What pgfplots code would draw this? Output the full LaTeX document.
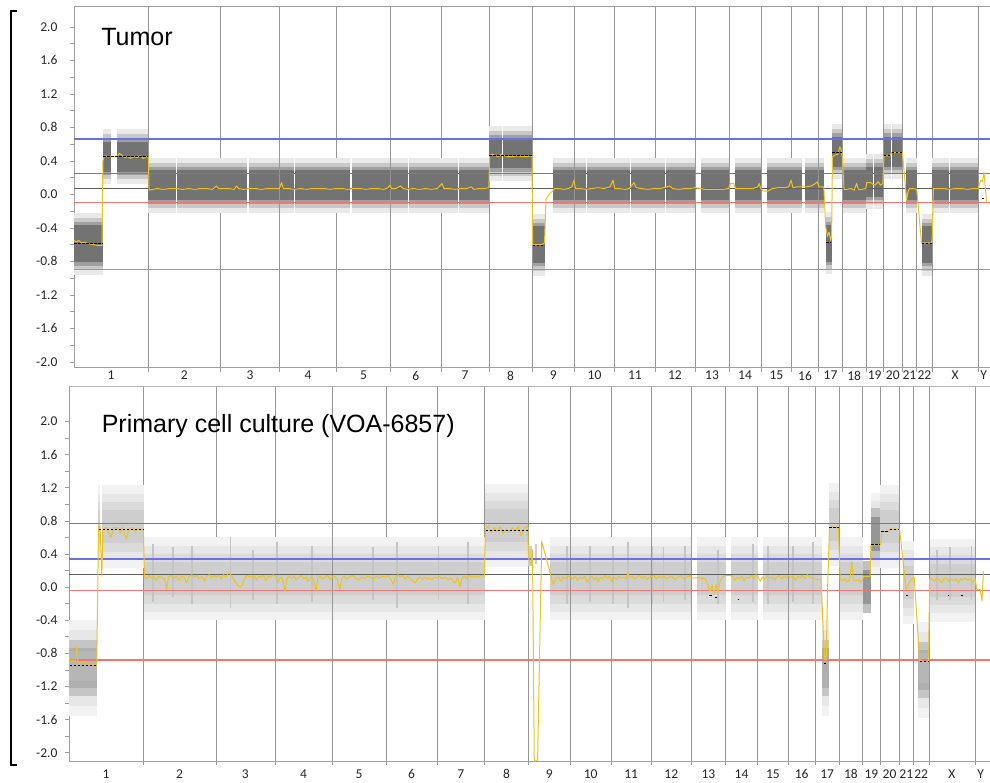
\documentclass[border=0pt]{standalone}
\usepackage{pgfplots}
\pgfplotsset{compat=1.18}
\usepackage{fontspec}
\setmainfont{Carlito}
\newfontfamily\arialfont{Liberation Sans}
\definecolor{ylw}{RGB}{236,196,28}
\definecolor{refblue}{RGB}{110,110,232}
\definecolor{refred}{RGB}{238,118,118}
\definecolor{refblack}{RGB}{95,95,95}
\definecolor{vgrid}{RGB}{150,150,150}
\definecolor{t1}{RGB}{115,115,115}
\definecolor{t2}{RGB}{160,160,160}
\definecolor{t3}{RGB}{200,200,200}
\definecolor{t4}{RGB}{233,233,233}
\definecolor{b1}{RGB}{206,206,206}
\definecolor{b2}{RGB}{219,219,219}
\definecolor{b3}{RGB}{231,231,231}
\definecolor{b4}{RGB}{242,242,242}
\definecolor{bdense}{RGB}{150,150,150}
\definecolor{streak}{RGB}{196,196,196}
\pgfplotsset{
 cnv/.style={
  scale only axis,
  xmin=0,
  axis x line*=bottom, axis y line*=left,
  axis line style={draw=gray!75, line width=0.6pt},
  xtick={124.5,370.5,591,786,972,1147.5,1313,1466,1609.5,1748,1883.5,2018,2142.5,2253.5,2358.5,2455,2540.5,2620,2688.5,2749.5,2805.5,2855.5,2958.5,3055},
  xticklabels={1,2,3,4,5,6,7,8,9,10,11,12,13,14,15,16,17,18,19,20,21,22,X,Y},
  major x tick style={draw=none},
  minor xtick={249,492,690,882,1062,1233,1393,1539,1680,1816,1951,2085,2200,2307,2410,2500,2581,2659,2718,2781,2830,2881,3036},
  xminorgrids=true,
  minor grid style={draw=vgrid, line width=0.6pt},
  tick align=outside,
  major tick length=4pt, minor tick length=4pt,
  every tick/.style={draw=gray!75, line width=0.6pt},
  ytick={-2,-1.6,-1.2,-0.8,-0.4,0,0.4,0.8,1.2,1.6,2},
  minor y tick num=1,
  yticklabel={\pgfmathprintnumber[fixed,fixed zerofill,precision=1,assume math mode=true]{\tick}},
  ticklabel style={font=\fontsize{13.5}{16}\selectfont, text=black!85},
  unbounded coords=jump,
 },
 band/.style={forget plot, line cap=butt, unbounded coords=jump},
 refl/.style={forget plot, line width=1.25pt},
}
\begin{document}
\begin{tikzpicture}[x=1pt,y=1pt]
\useasboundingbox (0,0) rectangle (990,783);
\draw[line width=1.6pt] (17,772) -- (11,772) -- (11,18) -- (17,18);

% ================= TOP PANEL: Tumor =================
\begin{axis}[cnv,
  at={(74pt,415.3pt)}, anchor=south west,
  width=916pt, height=361.7pt,
  xmax=3076, ymin=-2.07, ymax=2.25,
  yticklabel style={xshift=-9pt},
  xticklabel style={yshift=4pt},
]
\def\segA{(250,0.11) (342,0.11) (342,nan) (346,0.11) (492,0.11) (492,nan)
(493,0.11) (582,0.11) (582,nan) (586,0.11) (690,0.11) (690,nan)
(691,0.11) (738,0.11) (738,nan) (742,0.11) (882,0.11) (882,nan)
(883,0.11) (928,0.11) (928,nan) (932,0.11) (1062,0.11) (1062,nan)
(1063,0.11) (1120,0.11) (1120,nan) (1124,0.11) (1233,0.11) (1233,nan)
(1234,0.11) (1290,0.11) (1290,nan) (1294,0.11) (1393,0.11) (1393,nan)
(1394,0.49) (1437,0.49) (1437,nan) (1441,0.49) (1539,0.49) (1539,nan)
(96,0.45) (124,0.45) (124,nan) (145,0.45) (249,0.45) (249,nan)
(1607,0.11) (1680,0.11) (1680,nan) (1681,0.11) (1718,0.11) (1718,nan)
(1722,0.11) (1816,0.11) (1816,nan) (1817,0.11) (1867,0.11) (1867,nan)
(1871,0.11) (1951,0.11) (1951,nan) (1952,0.11) (1984,0.11) (1984,nan)
(1988,0.11) (2085,0.11) (2085,nan) (2104,0.11) (2200,0.11) (2200,nan)
(2219,0.11) (2307,0.11) (2307,nan) (2327,0.11) (2410,0.11) (2410,nan)
(2411,0.11) (2445,0.11) (2445,nan) (2455,0.11) (2500,0.11) (2500,nan)
(2501,0.11) (2518,0.11) (2518,nan) (2544,0.51) (2580,0.51) (2580,nan)
(2583,0.11) (2659,0.11) (2659,nan) (2660,0.15) (2684,0.15) (2684,nan)
(2688,0.15) (2718,0.15) (2718,nan) (2719,0.51) (2743,0.51) (2743,nan)
(2747,0.51) (2781,0.51) (2781,nan) (2795,0.11) (2830,0.11) (2830,nan)
(2882,0.11) (2939,0.11) (2939,nan) (2943,0.11) (3036,0.11) (3036,nan)}
\def\segB{(0,-0.59) (96,-0.59) (96,nan) (1540,-0.60) (1580,-0.60) (1580,nan)
(2524,-0.585) (2544,-0.585) (2544,nan) (2846,-0.60) (2881,-0.60) (2881,nan)}
\addplot[band, t4, line width=55pt] coordinates {\segA};
\addplot[band, t4, line width=62pt] coordinates {\segB};
\addplot[band, t3, line width=45pt] coordinates {\segA};
\addplot[band, t3, line width=52pt] coordinates {\segB};
\addplot[band, t2, line width=37pt] coordinates {\segA};
\addplot[band, t2, line width=43.5pt] coordinates {\segB};
\addplot[band, t1, line width=30pt] coordinates {\segA};
\addplot[band, t1, line width=37pt] coordinates {\segB};
% reference lines
\addplot[refl, draw=refblue] coordinates {(0,0.66) (3100,0.66)};
\addplot[refl, draw=refblue] coordinates {(0,0.25) (3100,0.25)};
\addplot[refl, draw=refblack, line width=0.8pt] coordinates {(0,0.07) (3100,0.07)};
\addplot[refl, draw=refred] coordinates {(0,-0.10) (3100,-0.10)};
\addplot[refl, draw=refred] coordinates {(0,-0.90) (3100,-0.90)};
% smoothed signal
\addplot[ylw, line width=1pt, line join=round] coordinates {
(0,-0.55) (8,-0.57) (15,-0.55) (25,-0.58) (35,-0.57) (50,-0.59) (65,-0.60) (80,-0.61) (94,-0.61) (97,0.40) (103,0.46) (115,0.45) (125,0.45) (135,0.45) (147,0.46) (152,0.49) (160,0.47) (170,0.44) (180,0.45) (190,0.43) (200,0.45) (212,0.44) (222,0.46) (232,0.43) (242,0.45) (250,0.44)
(252,0.05) (265,0.06) (280,0.07) (300,0.06) (320,0.07) (345,0.07) (365,0.06) (385,0.07) (405,0.06) (425,0.07) (445,0.07) (465,0.06) (478,0.10) (485,0.07) (500,0.07) (520,0.07) (538,0.06) (546,0.10) (552,0.07) (570,0.06) (590,0.07) (610,0.07) (630,0.06) (650,0.07) (670,0.07) (690,0.07) (697,0.14) (703,0.07) (720,0.07) (740,0.06) (760,0.07) (780,0.06) (800,0.07) (820,0.07) (840,0.07) (860,0.06) (880,0.07) (900,0.07) (920,0.06) (940,0.07) (960,0.07) (980,0.06) (1000,0.07) (1020,0.07) (1040,0.06) (1055,0.08) (1061,0.11) (1066,0.07) (1080,0.07) (1097,0.10) (1105,0.07) (1120,0.06) (1140,0.07) (1160,0.06) (1180,0.07) (1200,0.06) (1220,0.07) (1236,0.13) (1242,0.07) (1260,0.07) (1280,0.06) (1300,0.07) (1320,0.07) (1335,0.09) (1342,0.06) (1360,0.07) (1380,0.07) (1393,0.08)
(1396,0.47) (1405,0.48) (1415,0.46) (1425,0.45) (1436,0.48) (1445,0.46) (1460,0.45) (1475,0.45) (1490,0.46) (1505,0.45) (1520,0.45) (1535,0.46) (1538,0.45)
(1540,-0.60) (1555,-0.60) (1570,-0.60) (1580,-0.58) (1585,-0.06) (1595,0.0) (1607,0.04) (1615,0.07) (1630,0.07) (1645,0.06) (1660,0.07) (1672,0.09) (1679,0.17) (1684,0.07)
(1700,0.07) (1720,0.06) (1740,0.07) (1760,0.08) (1780,0.07) (1800,0.09) (1810,0.17) (1816,0.07)
(1830,0.07) (1850,0.06) (1865,0.07) (1880,0.14) (1888,0.08) (1905,0.07) (1925,0.06) (1950,0.07)
(1970,0.07) (2001,0.10) (2010,0.07) (2030,0.06) (2050,0.07) (2070,0.07) (2085,0.08)
(2104,0.07) (2120,0.06) (2140,0.06) (2160,0.06) (2180,0.06) (2198,0.07) (2205,0.13) (2215,0.13) (2222,0.07)
(2240,0.07) (2260,0.07) (2280,0.07) (2296,0.09) (2301,0.13) (2306,0.07)
(2315,0.04) (2330,0.04) (2345,0.07) (2365,0.08) (2385,0.08) (2400,0.09) (2408,0.17) (2414,0.08)
(2430,0.09) (2445,0.09) (2460,0.09) (2475,0.10) (2490,0.13) (2496,0.15) (2502,0.09)
(2512,0.09) (2518,0.09) (2524,-0.38) (2530,-0.50) (2536,-0.45) (2541,-0.55) (2544,-0.50) (2547,0.45) (2555,0.47) (2565,0.48) (2572,0.57) (2577,0.52) (2580,0.45) (2586,0.06)
(2595,0.06) (2610,0.07) (2620,0.05) (2628,0.13) (2634,0.06) (2645,0.06) (2659,0.07)
(2662,0.14) (2675,0.14) (2683,0.12) (2690,0.11) (2701,0.15) (2708,0.11) (2716,0.13)
(2720,0.46) (2740,0.46) (2746,0.50) (2765,0.50) (2782,0.50)
(2796,-0.07) (2800,0.02) (2805,0.07) (2815,0.07) (2830,0.06)
(2846,-0.58) (2860,-0.58) (2880,-0.58) (2882,-0.50) (2886,0.07)
(2900,0.07) (2920,0.07) (2940,0.06) (2960,0.07) (2980,0.07) (3000,0.06) (3020,0.07) (3036,0.07)
(3040,0.12) (3045,0.17) (3050,0.15) (3056,0.26) (3060,0.08) (3065,-0.09)
};
% segment means
\addplot[black, line width=1pt, dash pattern=on 2.5pt off 1.5pt] coordinates {
(0,-0.59) (96,-0.59) (96,nan) (98,0.45) (249,0.45) (249,nan)
(1395,0.46) (1538,0.46) (1538,nan) (1541,-0.61) (1580,-0.61) (1580,nan)
(2526,-0.58) (2543,-0.58) (2543,nan) (2546,0.50) (2579,0.50) (2579,nan)
(2720,0.46) (2744,0.46) (2744,nan) (2746,0.50) (2781,0.50) (2781,nan)
(2847,-0.59) (2880,-0.59) (2880,nan) (3048,-0.05) (3059,-0.05)};
\draw[gray!75, line width=0.6pt] (rel axis cs:0,1) -- (rel axis cs:1,1);
\node[anchor=base west, font=\arialfont\fontsize{25}{30}\selectfont] at (axis cs:80,1.78) {Tumor};
\end{axis}

% ================= BOTTOM PANEL: Primary cell culture =================
\begin{axis}[cnv,
  at={(69pt,22pt)}, anchor=south west,
  width=921pt, height=374.3pt,
  xmax=3086, ymin=-2.10, ymax=2.42,
  yticklabel style={xshift=-4pt},
  xticklabel style={yshift=-1pt},
]
\def\segN{(252,0.1) (492,0.1) (492,nan) (493,0.1) (690,0.1) (690,nan)
(691,0.1) (882,0.1) (882,nan) (883,0.1) (1062,0.1) (1062,nan)
(1063,0.1) (1233,0.1) (1233,nan) (1234,0.1) (1393,0.1) (1393,nan)
(1612,0.1) (1680,0.1) (1680,nan) (1681,0.1) (1816,0.1) (1816,nan)
(1817,0.1) (1951,0.1) (1951,nan) (1952,0.1) (2085,0.1) (2085,nan)
(2104,0.1) (2200,0.1) (2200,nan) (2219,0.1) (2307,0.1) (2307,nan)
(2327,0.1) (2410,0.1) (2410,nan) (2411,0.1) (2500,0.1) (2500,nan)
(2501,0.1) (2522,0.1) (2522,nan) (2583,0.1) (2659,0.1) (2659,nan)
(2795,0.05) (2830,0.05) (2830,nan) (2884,0.08) (3036,0.08) (3036,nan)
(96,0.73) (103,0.73) (103,nan) (112,0.73) (250,0.73) (250,nan)
(1394,0.74) (1539,0.74) (1539,nan) (2545,0.75) (2581,0.75) (2581,nan)
(2687,0.64) (2718,0.64) (2718,nan) (2719,0.73) (2781,0.73) (2781,nan)}
\def\segL{(0,-0.98) (95,-0.98) (95,nan) (2522,-0.98) (2545,-0.98) (2545,nan)
(2846,-1.0) (2881,-1.0) (2881,nan)}
\addplot[band, b4, line width=83pt] coordinates {\segN};
\addplot[band, b4, line width=96pt] coordinates {\segL};
\addplot[band, b3, line width=66pt] coordinates {\segN};
\addplot[band, b3, line width=76pt] coordinates {\segL};
\addplot[band, b2, line width=50pt] coordinates {\segN};
\addplot[band, b2!90!black, line width=56pt] coordinates {\segL};
\addplot[band, b1, line width=33pt] coordinates {\segN};
\addplot[band, b1!85!black, line width=40pt] coordinates {\segL};
% vertical streaks of dense probes
\addplot[band, streak, line width=1.3pt] coordinates {
(281,-0.18) (281,0.52) (281,nan) (348,-0.12) (348,0.48) (348,nan)
(412,-0.2) (412,0.5) (412,nan) (540,-0.25) (540,0.6) (540,nan)
(617,-0.15) (617,0.45) (617,nan) (697,-0.2) (697,0.55) (697,nan)
(814,-0.18) (814,0.5) (814,nan) (1019,-0.15) (1019,0.48) (1019,nan)
(1099,-0.25) (1099,0.55) (1099,nan) (1237,-0.15) (1237,0.5) (1237,nan)
(1337,-0.2) (1337,0.55) (1337,nan) (1669,-0.2) (1669,0.5) (1669,nan)
(1746,-0.18) (1746,0.5) (1746,nan) (1823,-0.2) (1823,0.5) (1823,nan)
(1873,-0.25) (1873,0.55) (1873,nan) (1954,-0.2) (1954,0.5) (1954,nan)
(1991,-0.18) (1991,0.48) (1991,nan) (2064,-0.15) (2064,0.5) (2064,nan)
(2175,-0.2) (2175,0.45) (2175,nan) (2292,-0.18) (2292,0.52) (2292,nan)
(2342,-0.2) (2342,0.5) (2342,nan) (2426,-0.18) (2426,0.5) (2426,nan)
(2493,-0.2) (2493,0.55) (2493,nan) (2908,-0.15) (2908,0.45) (2908,nan)
(2952,-0.15) (2952,0.48) (2952,nan) (3025,-0.15) (3025,0.5)};
\addplot[band, b1, line width=20pt] coordinates {(1539,0.38) (1552,0.38) (1552,nan) (1563,0.40) (1568,0.40)};
\addplot[band, bdense!60!white, line width=52pt] coordinates {(2662,0.0) (2686,0.0) (2686,nan) (2688,0.64) (2718,0.64)};
\addplot[band, bdense, line width=34pt] coordinates {(2662,0.0) (2686,0.0) (2686,nan) (2688,0.64) (2718,0.64)};
\addplot[band, bdense!70!white, line width=30pt] coordinates {(0,-0.95) (95,-0.95) (95,nan) (2848,-0.98) (2880,-0.98)};
% reference lines
\addplot[refl, draw=refblue] coordinates {(0,0.77) (3100,0.77)};
\addplot[refl, draw=refblue] coordinates {(0,0.34) (3100,0.34)};
\addplot[refl, draw=refblack, line width=0.8pt] coordinates {(0,0.15) (3100,0.15)};
\addplot[refl, draw=refred] coordinates {(0,-0.04) (3100,-0.04)};
\addplot[refl, draw=refred] coordinates {(0,-0.88) (3100,-0.88)};
% smoothed signal
\addplot[ylw, line width=1pt, line join=round] coordinates {
(0,-0.85) (6,-0.90) (12,-0.88) (20,-0.90) (26,-0.72) (30,-0.90) (40,-0.93) (50,-0.90) (60,-0.92) (70,-0.95) (80,-0.93) (88,-0.96) (93,-0.92) (99,0.72) (104,0.74) (110,0.13) (114,0.70) (125,0.72) (140,0.60) (152,0.72) (165,0.71) (172,0.65) (180,0.72) (192,0.58) (200,0.70) (212,0.72) (222,0.67) (232,0.71) (242,0.69) (249,0.70) (253,0.12)
(260,0.10) (268,0.14) (276,0.11) (284,0.13) (292,0.08) (300,0.13) (310,0.12) (320,0.10) (327,-0.03) (333,0.12) (342,0.14) (352,0.11) (360,0.13) (368,0.08) (376,0.13) (386,0.12) (394,0.05) (402,0.13) (412,0.15) (420,0.12) (428,0.14) (436,0.10) (445,0.13) (454,0.07) (462,0.13) (470,0.15) (478,0.11) (486,0.14) (494,0.12) (502,0.14) (510,0.10) (518,0.15) (526,0.12) (534,0.17) (540,0.16) (548,0.12) (556,0.07) (564,0.03) (572,0.0) (580,0.02) (588,0.10) (596,0.14) (604,0.13) (612,0.12) (620,0.14) (628,0.09) (636,0.13) (644,0.12) (652,0.14) (660,0.08) (668,0.13) (676,0.12) (684,0.15) (692,0.13) (700,0.06) (708,0.12) (716,0.10) (724,-0.05) (730,0.10) (738,0.13) (746,0.11) (754,0.13) (762,0.09) (770,0.12) (778,0.14) (786,0.10) (794,0.12) (802,0.07) (810,0.12) (818,0.10) (828,-0.05) (834,0.12) (842,0.13) (850,0.10) (858,0.12) (866,0.14) (874,0.09) (882,0.12) (890,0.13) (898,0.10) (908,-0.03) (914,0.11) (922,0.13) (930,0.10) (940,0.12) (950,0.14) (960,0.11) (970,0.09) (980,0.12) (990,0.10) (1000,0.13) (1010,0.12) (1020,0.10) (1030,0.13) (1040,0.11) (1050,0.13) (1060,0.12) (1070,0.14) (1080,0.08) (1087,0.03) (1094,0.13) (1102,0.15) (1110,0.12) (1118,0.14) (1126,0.10) (1134,0.13) (1142,0.11) (1150,0.08) (1160,0.05) (1168,0.10) (1176,0.12) (1184,0.09) (1192,0.12) (1200,0.10) (1208,0.11) (1216,0.09) (1224,0.12) (1232,0.11) (1240,0.13) (1250,0.10) (1260,0.12) (1270,0.09) (1280,0.11) (1288,0.07) (1294,0.05) (1302,0.12) (1310,0.0) (1316,0.10) (1324,0.13) (1332,0.11) (1340,0.14) (1350,0.12) (1360,0.13) (1370,0.12) (1380,0.14) (1392,0.13)
(1395,0.70) (1405,0.74) (1415,0.66) (1425,0.72) (1435,0.67) (1445,0.73) (1455,0.65) (1465,0.70) (1475,0.66) (1485,0.72) (1495,0.68) (1505,0.73) (1515,0.62) (1525,0.71) (1537,0.74)
(1540,0.35) (1546,0.28) (1550,0.31) (1553,0.45) (1559,-2.1) (1570,-2.1) (1584,0.55) (1623,0.03) (1630,0.11) (1640,0.12) (1648,0.07) (1656,0.12) (1664,0.10) (1672,0.13) (1680,0.12)
(1688,0.10) (1696,0.13) (1704,0.08) (1712,0.12) (1720,0.10) (1728,0.13) (1736,0.06) (1744,0.11) (1752,0.13) (1760,0.09) (1768,0.12) (1773,0.06) (1780,0.12) (1788,0.10) (1796,0.14) (1804,0.11) (1812,0.13) (1818,0.06)
(1826,0.12) (1834,0.09) (1842,0.13) (1850,0.11) (1858,0.12) (1866,0.10) (1873,0.17) (1880,0.12) (1888,0.13) (1896,0.10) (1904,0.12) (1912,0.14) (1920,0.11) (1928,0.13) (1936,0.09) (1944,0.12) (1952,0.13)
(1960,0.14) (1968,0.10) (1976,0.13) (1984,0.11) (1992,0.14) (2000,0.10) (2010,0.12) (2020,0.13) (2030,0.09) (2040,0.12) (2050,0.14) (2060,0.10) (2070,0.12) (2080,0.14) (2086,0.11)
(2100,0.11) (2110,0.12) (2120,0.10) (2130,0.11) (2140,0.03) (2148,-0.05) (2155,0.02) (2162,-0.08) (2168,0.03) (2175,-0.06) (2182,0.08) (2190,0.12) (2198,0.14)
(2210,0.14) (2222,0.14) (2230,0.08) (2238,0.12) (2246,0.10) (2254,0.13) (2262,0.08) (2270,0.12) (2278,0.11) (2286,0.14) (2294,0.10) (2302,0.15) (2308,0.13)
(2316,0.07) (2324,0.12) (2332,0.10) (2340,0.13) (2348,0.11) (2356,0.12) (2364,0.09) (2372,0.12) (2380,0.14) (2388,0.10) (2396,0.13) (2404,0.11) (2410,0.14)
(2418,0.12) (2426,0.13) (2434,0.08) (2442,0.13) (2450,0.11) (2458,0.14) (2466,0.10) (2474,0.15) (2482,0.12) (2490,0.11) (2498,0.10) (2510,0.09) (2520,0.09)
(2528,-0.60) (2533,-0.88) (2537,-0.88) (2542,0.0) (2548,0.71) (2556,0.73) (2565,0.72) (2572,0.73) (2578,0.71) (2584,0.09)
(2592,0.08) (2600,0.10) (2608,0.06) (2616,0.09) (2623,0.31) (2628,0.09) (2636,0.07) (2644,0.09) (2652,0.06) (2660,0.10)
(2662,0.13) (2684,0.13) (2687,0.51) (2720,0.51)
(2723,0.67) (2746,0.67) (2751,0.70) (2783,0.70)
(2805,-0.03) (2815,0.05) (2824,0.10) (2832,0.12)
(2850,-0.88) (2865,-0.90) (2880,-0.90) (2884,0.10)
(2892,0.10) (2900,0.07) (2908,0.11) (2916,0.09) (2924,0.05) (2932,0.10) (2940,0.11) (2948,0.07) (2956,0.10) (2964,0.08) (2972,0.10) (2980,0.05) (2988,0.10) (2996,0.09) (3004,0.11) (3012,0.08) (3020,0.10) (3028,0.06) (3036,0.10)
(3042,-0.03) (3053,-0.03) (3059,-0.17) (3064,0.19)
};
% segment means
\addplot[black, line width=1pt, dash pattern=on 2.5pt off 1.5pt] coordinates {
(2,-0.95) (93,-0.95) (93,nan) (100,0.70) (248,0.70) (248,nan)
(1396,0.68) (1537,0.68) (1537,nan) (2531,-0.92) (2538,-0.92) (2538,nan)
(2547,0.72) (2579,0.72) (2579,nan) (2688,0.51) (2719,0.51) (2719,nan)
(2722,0.67) (2746,0.67) (2746,nan) (2750,0.70) (2782,0.70) (2782,nan)
(2850,-0.90) (2880,-0.90) (2880,nan)
(2146,-0.10) (2156,-0.10) (2156,nan) (2163,-0.12) (2172,-0.12) (2172,nan)
(2240,-0.15) (2244,-0.15) (2244,nan) (2806,-0.10) (2812,-0.10) (2812,nan)
(2945,-0.10) (2950,-0.10) (2950,nan) (2990,-0.10) (2996,-0.10)};
\draw[gray!60, line width=0.6pt] (rel axis cs:0,1) -- (rel axis cs:1,1);
\node[anchor=base west, font=\arialfont\fontsize{25}{30}\selectfont] at (axis cs:98,1.87) {Primary cell culture (VOA-6857)};
\end{axis}
\end{tikzpicture}
\end{document}
